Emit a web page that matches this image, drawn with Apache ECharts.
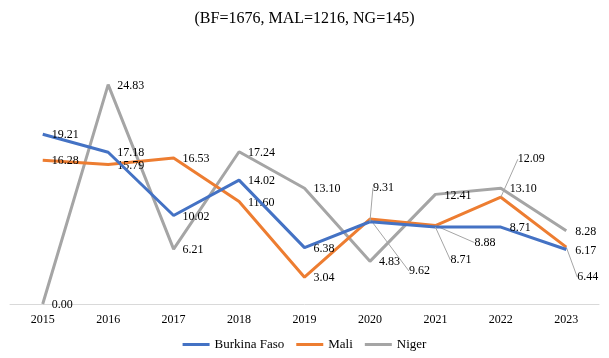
<!DOCTYPE html>
<html><head><meta charset="utf-8">
<script src="https://cdn.jsdelivr.net/npm/echarts@6/dist/echarts.min.js"></script>
<style>html,body{margin:0;padding:0;background:#fff}#c{width:609px;height:358px}</style>
</head><body><div id="c"></div>
<script>
const years = ['2015','2016','2017','2018','2019','2020','2021','2022','2023'];
const burkinaFaso = [19.21, 17.18, 10.02, 14.02, 6.38, 9.31, 8.71, 8.71, 6.17];
const mali = [16.28, 15.79, 16.53, 11.60, 3.04, 9.62, 8.88, 12.09, 6.44];
const niger = [0.00, 24.83, 6.21, 17.24, 13.10, 4.83, 12.41, 13.10, 8.28];
const titleText = '(BF=1676, MAL=1216, NG=145)';

const FONT = '"Liberation Serif", "DejaVu Serif", serif';
// label shifts (dx, dy) for labels that carry a leader line: key = seriesIndex-dataIndex
const shifts = {
  '0-5': [-6, -34],
  '1-5': [30, 52],
  '1-6': [30, 17],
  '0-6': [6, 33],
  '1-7': [8, -38],
  '1-8': [2, 30]
};
const colors = ['#4472C4', '#ED7D31', '#A5A5A5'];
function mk(name, values, idx) {
  const data = values.map((v, i) => {
    const item = { value: v };
    if (shifts[idx + '-' + i]) item.labelLine = { show: true };
    return item;
  });
  return {
    name, type: 'line', data,
    symbol: 'circle', symbolSize: 0, showSymbol: true,
    lineStyle: { width: 3, color: colors[idx] },
    itemStyle: { color: colors[idx] },
    label: {
      show: true, position: 'right', distance: 9,
      formatter: p => p.value.toFixed(2),
      fontFamily: FONT, fontSize: 12, color: '#000'
    },
    labelLine: { show: false, lineStyle: { color: '#A5A5A5', width: 1 } },
    labelLayout: function (p) {
      const s = shifts[p.seriesIndex + '-' + p.dataIndex];
      if (s) return { dx: s[0], dy: s[1] };
      return { dy: 1 };
    },
    z: 3 - idx
  };
}
const chart = echarts.init(document.getElementById('c'), null, { renderer: 'canvas' });
chart.setOption({
  animation: false,
  color: colors,
  textStyle: { fontFamily: FONT },
  title: {
    text: titleText, left: 'center', top: 6,
    textStyle: { fontFamily: FONT, fontSize: 16, fontWeight: 'normal', color: '#000' }
  },
  grid: { left: 10, right: 10, top: 39, bottom: 54 },
  xAxis: {
    type: 'category', data: years, boundaryGap: true,
    axisLine: { lineStyle: { color: '#D9D9D9', width: 1 } },
    axisTick: { show: false },
    axisLabel: { fontFamily: FONT, fontSize: 12, color: '#000', margin: 10 }
  },
  yAxis: {
    type: 'value', min: 0, max: 30, show: false, splitLine: { show: false }
  },
  legend: {
    bottom: 2, left: 'center', icon: 'rect', itemWidth: 27, itemHeight: 3, itemGap: 12,
    textStyle: { fontFamily: FONT, fontSize: 13, color: '#000' },
    data: ['Burkina Faso', 'Mali', 'Niger']
  },
  series: [mk('Burkina Faso', burkinaFaso, 0), mk('Mali', mali, 1), mk('Niger', niger, 2)]
});
</script></body></html>
